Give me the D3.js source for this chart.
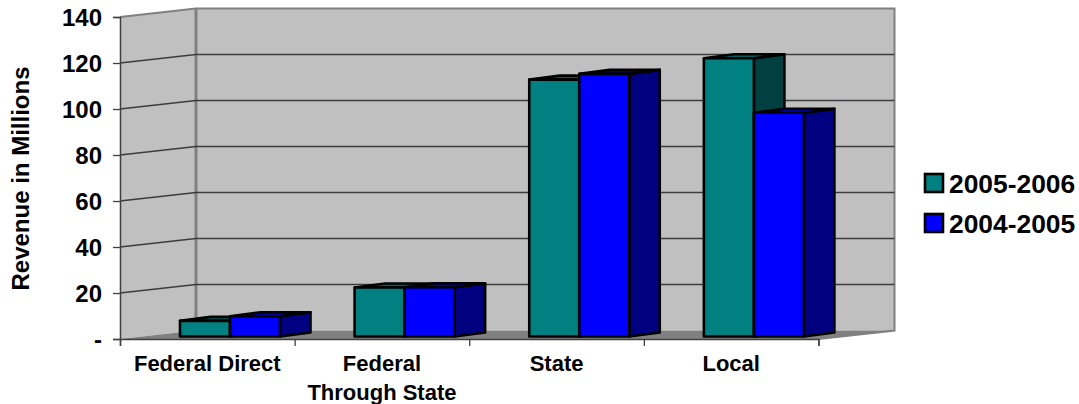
<!DOCTYPE html>
<html>
<head>
<meta charset="utf-8">
<script src="https://cdn.jsdelivr.net/npm/d3@7"></script>
<style>
  html, body { margin: 0; padding: 0; background: #fff; }
  text { font-family: "Liberation Sans", Arial, sans-serif; font-weight: bold; fill: #000; }
</style>
</head>
<body>
<div id="chart"></div>
<script>
var categories = ['Federal Direct', 'Federal|Through State', 'State', 'Local'];
var seriesNames = ['2005-2006', '2004-2005'];
var values0506 = [6.8, 21.3, 111.7, 121];
var values0405 = [8.8, 21.4, 114.2, 97.3];
var yTicks = [0, 20, 40, 60, 80, 100, 120, 140];

var width = 1079, height = 404;
var plotLeft = 120, plotRight = 818.5, plotBottom = 339, plotTop = 17;
//Depth of the 3d box, and where the bars sit inside it
var wallDx = 76, wallDy = -8.5;
var barDx = 30.5, barDy = -4;
var barOffX = 22.5, barOffY = -2.5;

var colors = {
    '2005-2006': { front: '#008080', side: '#004040', top: '#006060' },
    '2004-2005': { front: '#0000ff', side: '#000080', top: '#0000a0' }
};

var svg = d3.select('#chart').append('svg')
    .attr('width', width)
    .attr('height', height)
    .style('display', 'block');

var y = d3.scaleLinear().domain([0, 140]).range([plotBottom, plotTop]);
var x0 = d3.scaleBand().domain(categories).range([plotLeft, plotRight]);
var x1 = d3.scaleBand().domain(seriesNames).range([37.5, 137.5]);

function pts(a) {
    return a.map(function(p) { return p.join(','); }).join(' ');
}

//Walls
svg.append('polygon')
    .attr('points', pts([[plotLeft, y(140)], [plotLeft + wallDx, y(140) + wallDy], [plotLeft + wallDx, y(0) + wallDy], [plotLeft, y(0)]]))
    .attr('fill', '#c0c0c0');
svg.append('polygon')
    .attr('points', pts([[plotLeft + wallDx, y(140) + wallDy], [plotRight + wallDx, y(140) + wallDy], [plotRight + wallDx, y(0) + wallDy], [plotLeft + wallDx, y(0) + wallDy]]))
    .attr('fill', '#c0c0c0');

//Wall edges
svg.append('polyline')
    .attr('points', pts([[plotLeft, y(140)], [plotLeft + wallDx, y(140) + wallDy], [plotRight + wallDx, y(140) + wallDy], [plotRight + wallDx, y(0) + wallDy], [plotRight, y(0)]]))
    .attr('fill', 'none')
    .attr('stroke', '#808080')
    .attr('stroke-width', 2);
svg.append('line')
    .attr('x1', plotLeft + wallDx).attr('x2', plotLeft + wallDx)
    .attr('y1', y(140) + wallDy).attr('y2', y(0) + wallDy)
    .attr('stroke', '#808080')
    .attr('stroke-width', 3);

//Floor
svg.append('polygon')
    .attr('points', pts([[plotLeft, y(0)], [plotLeft + wallDx, y(0) + wallDy], [plotRight + wallDx, y(0) + wallDy], [plotRight, y(0)]]))
    .attr('fill', '#808080');

//Gridlines
yTicks.slice(1, -1).forEach(function(t) {
    svg.append('polyline')
        .attr('points', pts([[plotLeft, y(t)], [plotLeft + wallDx, y(t) + wallDy], [plotRight + wallDx, y(t) + wallDy]]))
        .attr('fill', 'none')
        .attr('stroke', '#3c3c3c')
        .attr('stroke-width', 1.3);
});

//Axes
var yAxis = d3.axisLeft(y)
    .tickValues(yTicks)
    .tickSize(7)
    .tickPadding(11)
    .tickFormat(function(d) { return d === 0 ? '-' : d; });
var yG = svg.append('g').attr('transform', 'translate(' + plotLeft + ',0)').call(yAxis);
yG.selectAll('text').style('font-size', '24px').attr('dy', '0.34em');
yG.selectAll('line').attr('stroke', '#404040').attr('stroke-width', 1.3);
yG.select('.domain').attr('stroke', '#404040').attr('stroke-width', 1.5);

var xEdges = d3.scaleLinear().domain([0, categories.length]).range([plotLeft, plotRight]);
var xAxis = d3.axisBottom(xEdges)
    .tickValues(d3.range(categories.length + 1))
    .tickSize(7)
    .tickFormat('');
var xG = svg.append('g').attr('transform', 'translate(0,' + plotBottom + ')').call(xAxis);
xG.selectAll('line').attr('stroke', '#404040').attr('stroke-width', 1.3);
xG.select('.domain').attr('stroke', '#404040').attr('stroke-width', 1.5);

//Bars
function drawBar(cat, series, value) {
    var c = colors[series];
    var x = x0(cat) + barOffX + x1(series);
    var w = x1.bandwidth();
    var yb = y(0) + barOffY;
    var yt = y(value) + barOffY;
    var g = svg.append('g')
        .attr('stroke', '#000')
        .attr('stroke-width', 2.6)
        .attr('stroke-linejoin', 'round');
    g.append('polygon')
        .attr('points', pts([[x + w, yt], [x + w + barDx, yt + barDy], [x + w + barDx, yb + barDy], [x + w, yb]]))
        .attr('fill', c.side);
    g.append('polygon')
        .attr('points', pts([[x, yt], [x + barDx, yt + barDy], [x + w + barDx, yt + barDy], [x + w, yt]]))
        .attr('fill', c.top);
    g.append('rect')
        .attr('x', x).attr('y', yt)
        .attr('width', w).attr('height', yb - yt)
        .attr('fill', c.front);
}
categories.forEach(function(cat, i) {
    drawBar(cat, '2005-2006', values0506[i]);
    drawBar(cat, '2004-2005', values0405[i]);
});

//Category labels
categories.forEach(function(cat) {
    var t = svg.append('text')
        .attr('text-anchor', 'middle')
        .style('font-size', '22px');
    cat.split('|').forEach(function(line, i) {
        t.append('tspan')
            .attr('x', x0(cat) + x0.bandwidth() / 2)
            .attr('y', 371 + i * 29)
            .text(line);
    });
});

//Axis title
svg.append('text')
    .attr('transform', 'translate(29,178.5) rotate(-90)')
    .attr('text-anchor', 'middle')
    .style('font-size', '24px')
    .text('Revenue in Millions');

//Legend
seriesNames.forEach(function(name, i) {
    var ly = 183 + i * 40;
    svg.append('rect')
        .attr('x', 925).attr('y', ly - 9)
        .attr('width', 18).attr('height', 18)
        .attr('fill', colors[name].front)
        .attr('stroke', '#000')
        .attr('stroke-width', 2.6);
    svg.append('text')
        .attr('x', 949).attr('y', ly + 10)
        .style('font-size', '26.4px')
        .text(name);
});
</script>
</body>
</html>
